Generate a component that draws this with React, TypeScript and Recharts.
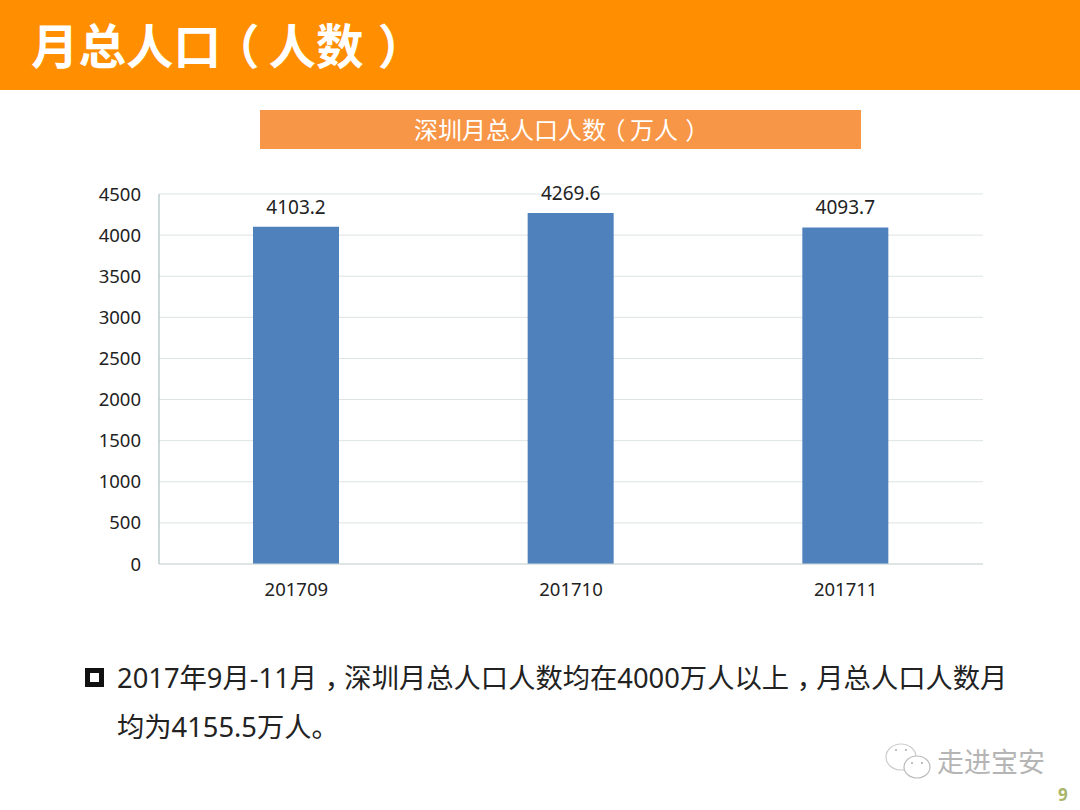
import React from "react";
import { BarChart, Bar, XAxis, YAxis, CartesianGrid, LabelList } from "recharts";

const months = ["201709", "201710", "201711"];
const population = [4103.2, 4269.6, 4093.7];
const yTicks = [0, 500, 1000, 1500, 2000, 2500, 3000, 3500, 4000, 4500];
const pageTitle = "月总人口（人数）";
const chartTitle = "深圳月总人口人数（万人）";
const noteLine1 = "2017年9月-11月，深圳月总人口人数均在4000万人以上，月总人口人数月";
const noteLine2 = "均为4155.5万人。";
const rows = months.map((month, i) => ({ month, value: population[i] }));

const FONT = '"Noto Sans", "Noto Sans CJK SC", sans-serif';
const abs = (s: React.CSSProperties): React.CSSProperties => ({ position: "absolute", whiteSpace: "nowrap", fontFamily: FONT, ...s });

// Full-width punctuation sits centred in its em box in the reference's font.
// Shifted with margins and letter-spacing so that no text box overlaps its neighbour.
const Centered = ({ text }: { text: string }) => {
  const chars = Array.from(text);
  return (
    <>
      {chars.map((c, i) => {
        let st: React.CSSProperties | null = null;
        if (chars[i + 1] === "（") st = { letterSpacing: "-0.19em" };
        if (c === "（") st = { letterSpacing: "0.19em" };
        if (c === "）") st = { marginLeft: "0.3em", letterSpacing: "-0.3em" };
        if (c === "，") st = { marginLeft: "0.28em", letterSpacing: "-0.28em" };
        return st ? <span key={i} style={st}>{c}</span> : <React.Fragment key={i}>{c}</React.Fragment>;
      })}
    </>
  );
};

export default function App() {
  return (
    <div style={{ position: "absolute", left: 0, top: 0, width: 1080, height: 810, background: "#fff", overflow: "hidden" }}>
      <div style={{ position: "absolute", left: 0, top: 0, width: 1080, height: 90, background: "#FF8F00" }} />
      <div style={abs({ left: 31, top: 15, fontSize: 47.5, lineHeight: "62px", fontWeight: 700, color: "#fff" })}><Centered text={pageTitle} /></div>
      <div style={{ position: "absolute", left: 260, top: 110, width: 601, height: 39, background: "#F79646" }} />
      <div style={abs({ left: 414, top: 110, fontSize: 24, lineHeight: "40px", color: "#fff" })}><Centered text={chartTitle} /></div>

      <div style={{ position: "absolute", left: 0, top: 0 }}>
        <BarChart width={1080} height={810} data={rows} barSize={86} margin={{ top: 194, right: 97, bottom: 216, left: 99 }}>
          <CartesianGrid vertical={false} stroke="#DDE3E3" strokeWidth={1} />
          <XAxis dataKey="month" height={30} axisLine={{ stroke: "#CFD8DA" }} tickLine={false} tickMargin={13}
            tick={{ fill: "#222", fontSize: 18.5, fontFamily: FONT }} />
          <YAxis width={60} domain={[0, 4500]} ticks={yTicks} interval={0} axisLine={{ stroke: "#9DB5B5" }} tickLine={false} tickMargin={12}
            tick={{ fill: "#222", fontSize: 18.5, fontFamily: FONT }} />
          <Bar dataKey="value" fill="#4F81BD" isAnimationActive={false}>
            <LabelList dataKey="value" position="top" offset={13} formatter={(v: number) => v.toFixed(1)}
              style={{ fill: "#222", fontSize: 19, fontFamily: FONT }} />
          </Bar>
        </BarChart>
      </div>

      <div style={{ position: "absolute", left: 85, top: 668, width: 19, height: 19, border: "5px solid #111", boxSizing: "border-box" }} />
      <div style={abs({ left: 117, top: 657, fontSize: 27.3, lineHeight: "42px", color: "#222" })}><Centered text={noteLine1} /></div>
      <div style={abs({ left: 117, top: 706, fontSize: 27.3, lineHeight: "42px", color: "#222" })}>{noteLine2}</div>

      <svg style={{ position: "absolute", left: 884, top: 740 }} width={50} height={40}>
        <ellipse cx="17" cy="17" rx="15" ry="13" fill="#fff" stroke="#ccc" strokeWidth="1.2" />
        <ellipse cx="33" cy="27" rx="13" ry="11" fill="#fff" stroke="#bbb" strokeWidth="1.2" />
        <circle cx="12" cy="10" r="1" fill="#aaa" />
        <circle cx="22" cy="10" r="1" fill="#aaa" />
        <circle cx="28" cy="23" r="1" fill="#aaa" />
        <circle cx="38" cy="23" r="1" fill="#aaa" />
      </svg>
      <div style={abs({ left: 937, top: 744, fontSize: 27, lineHeight: "36px", color: "#b5b5b5" })}>走进宝安</div>
      <div style={abs({ left: 1058, top: 784, fontSize: 17, lineHeight: "22px", fontWeight: 700, color: "#A9B56B" })}>9</div>
    </div>
  );
}
